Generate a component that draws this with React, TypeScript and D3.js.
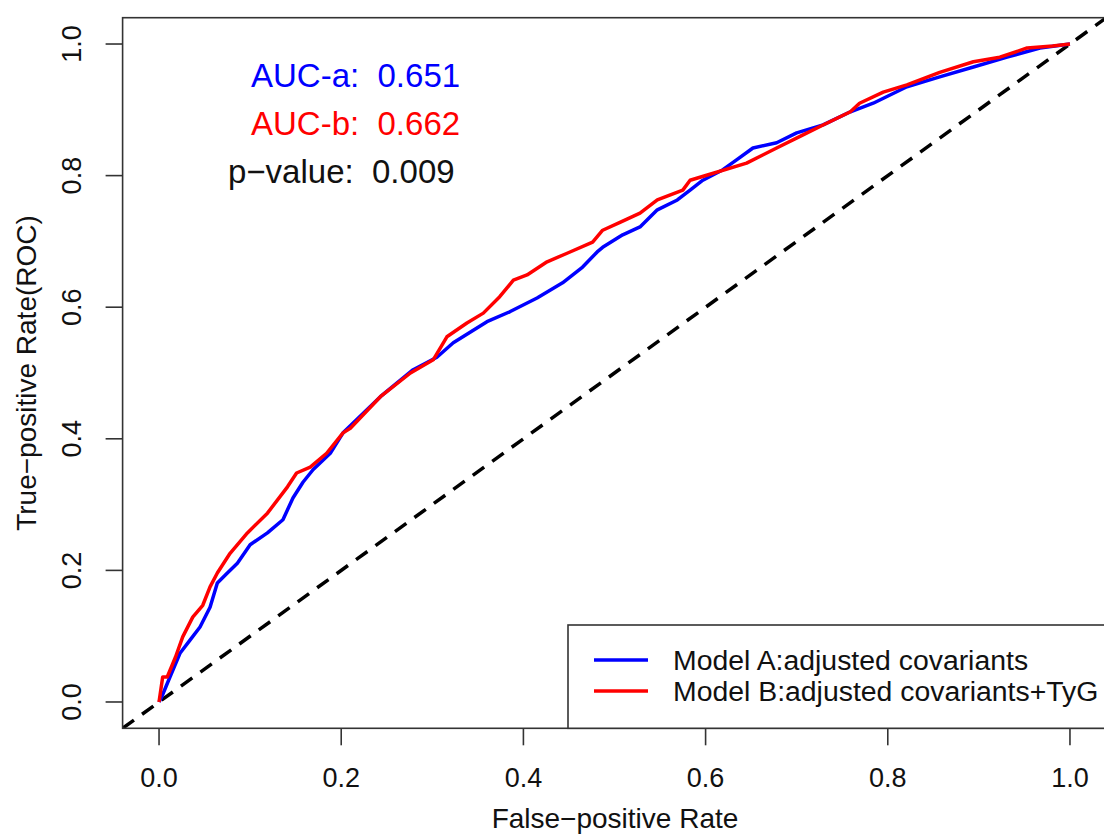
import React from "react";
import * as d3 from "d3";

const ticks = [0, 0.2, 0.4, 0.6, 0.8, 1.0];
const tickLabels = ["0.0", "0.2", "0.4", "0.6", "0.8", "1.0"];

// Model A (blue) ROC: [fpr, tpr]
const modelAFpr = [0, 0.003, 0.012, 0.023, 0.034, 0.045, 0.056, 0.064, 0.075, 0.086, 0.1, 0.119, 0.136, 0.147, 0.158, 0.169, 0.188, 0.202, 0.243, 0.279, 0.305, 0.323, 0.36, 0.385, 0.415, 0.443, 0.465, 0.481, 0.487, 0.509, 0.528, 0.547, 0.569, 0.583, 0.597, 0.619, 0.634, 0.652, 0.678, 0.7, 0.729, 0.759, 0.784, 0.821, 0.857, 0.894, 0.931, 0.967, 1.0];
const modelATpr = [0, 0.008, 0.038, 0.074, 0.094, 0.114, 0.144, 0.181, 0.196, 0.211, 0.239, 0.257, 0.277, 0.31, 0.334, 0.353, 0.378, 0.409, 0.464, 0.505, 0.524, 0.546, 0.578, 0.593, 0.614, 0.637, 0.661, 0.684, 0.691, 0.71, 0.722, 0.748, 0.763, 0.778, 0.793, 0.809, 0.824, 0.842, 0.85, 0.865, 0.877, 0.897, 0.91, 0.935, 0.95, 0.965, 0.98, 0.994, 1.0];

// Model B (red) ROC
const modelBFpr = [0, 0.004, 0.009, 0.018, 0.026, 0.037, 0.048, 0.056, 0.064, 0.078, 0.097, 0.119, 0.141, 0.151, 0.166, 0.184, 0.202, 0.21, 0.243, 0.276, 0.301, 0.316, 0.338, 0.356, 0.374, 0.389, 0.404, 0.426, 0.448, 0.476, 0.487, 0.506, 0.528, 0.547, 0.575, 0.583, 0.602, 0.645, 0.678, 0.707, 0.729, 0.759, 0.769, 0.795, 0.821, 0.857, 0.894, 0.923, 0.953, 0.981, 1.0];
const modelBTpr = [0, 0.038, 0.038, 0.068, 0.099, 0.129, 0.147, 0.175, 0.196, 0.226, 0.257, 0.287, 0.327, 0.348, 0.357, 0.378, 0.409, 0.416, 0.464, 0.5, 0.52, 0.555, 0.576, 0.591, 0.616, 0.641, 0.649, 0.669, 0.682, 0.699, 0.717, 0.729, 0.743, 0.763, 0.778, 0.793, 0.801, 0.819, 0.842, 0.862, 0.877, 0.897, 0.91, 0.927, 0.938, 0.957, 0.973, 0.98, 0.994, 0.997, 1.0];

const aucLabels = ["AUC-a:  0.651", "AUC-b:  0.662", "p\u2212value:  0.009"];
const legendLabels = ["Model A:adjusted covariants", "Model B:adjusted covariants+TyG"];
const seriesColors = ["#0000FF", "#FF0000"];

export default function App() {
  const W = 1104, H = 837;
  const x = d3.scaleLinear().domain([-0.04, 1.04]).range([122.6, 1106.4]);
  const y = d3.scaleLinear().domain([-0.04, 1.04]).range([728.3, 17.7]);
  const font = "'Liberation Sans', Arial, Helvetica, sans-serif";
  const line = d3.line<[number, number]>().x(d => x(d[0])).y(d => y(d[1]));
  const aPts = modelAFpr.map((f, i) => [f, modelATpr[i]] as [number, number]);
  const bPts = modelBFpr.map((f, i) => [f, modelBTpr[i]] as [number, number]);
  const [x0, x1] = x.range();
  const [y0, y1] = y.range();

  return (
    <svg width={W} height={H} style={{ position: "absolute", left: 0, top: 0, display: "block", background: "#fff" }} fontFamily={font}>
      <defs>
        <clipPath id="plotclip">
          <rect x={x0} y={y1} width={x1 - x0} height={y0 - y1} />
        </clipPath>
      </defs>
      <rect x={0} y={0} width={W} height={H} fill="#fff" />
      <g clipPath="url(#plotclip)">
        <line x1={x(-0.04)} y1={y(-0.04)} x2={x(1.04)} y2={y(1.04)} stroke="#000" strokeWidth={3.5} strokeDasharray="14,10" />
        <path d={line(aPts) || ""} fill="none" stroke={seriesColors[0]} strokeWidth={3.5} strokeLinejoin="round" />
        <path d={line(bPts) || ""} fill="none" stroke={seriesColors[1]} strokeWidth={3.5} strokeLinejoin="round" />
      </g>
      <rect x={x0} y={y1} width={x1 - x0} height={y0 - y1} fill="none" stroke="#333" strokeWidth={1.6} />
      {ticks.map((t, i) => (
        <g key={"xt" + i}>
          <line x1={x(t)} x2={x(t)} y1={y0} y2={y0 + 17} stroke="#333" strokeWidth={1.6} />
          <text x={x(t)} y={787} textAnchor="middle" fontSize={27} fill="#111">{tickLabels[i]}</text>
        </g>
      ))}
      {ticks.map((t, i) => (
        <g key={"yt" + i}>
          <line x1={x0 - 17} x2={x0} y1={y(t)} y2={y(t)} stroke="#333" strokeWidth={1.6} />
          <text transform={`translate(81,${y(t)}) rotate(-90)`} textAnchor="middle" fontSize={27} fill="#111">{tickLabels[i]}</text>
        </g>
      ))}
      <text x={615} y={828} textAnchor="middle" fontSize={28} fill="#111">False{"\u2212"}positive Rate</text>
      <text transform={`translate(36,${(y0 + y1) / 2}) rotate(-90)`} textAnchor="middle" fontSize={28} fill="#111">True{"\u2212"}positive Rate(ROC)</text>
      <g style={{ whiteSpace: "pre" }}>
        <text x={251} y={87} fontSize={33} fill={seriesColors[0]} xmlSpace="preserve">{aucLabels[0]}</text>
        <text x={251} y={135} fontSize={33} fill={seriesColors[1]} xmlSpace="preserve">{aucLabels[1]}</text>
        <text x={228} y={183} fontSize={33} fill="#111" xmlSpace="preserve">{aucLabels[2]}</text>
      </g>
      <rect x={568} y={625} width={W - 568 + 20} height={y0 - 625} fill="#fff" stroke="#333" strokeWidth={1.6} />
      {legendLabels.map((l, i) => (
        <g key={"lg" + i}>
          <line x1={594} x2={648} y1={660 + i * 31} y2={660 + i * 31} stroke={seriesColors[i]} strokeWidth={3.5} />
          <text x={673} y={670 + i * 31} fontSize={28.4} fill="#111">{l}</text>
        </g>
      ))}
    </svg>
  );
}
